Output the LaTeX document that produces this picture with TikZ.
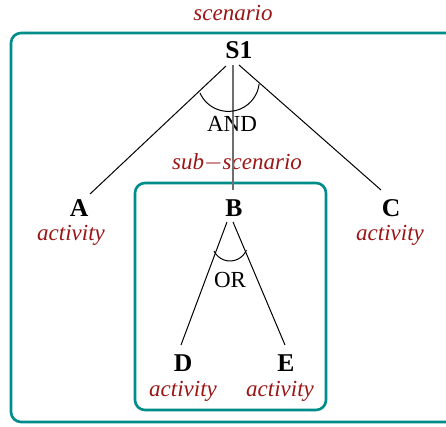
\documentclass[tikz,border=0pt]{standalone}
\usepackage{fontspec}
\setmainfont{Liberation Serif}
\definecolor{frameteal}{RGB}{0,140,138}
\definecolor{lblred}{RGB}{155,22,22}
\definecolor{linegray}{RGB}{110,110,110}
\begin{document}
\begin{tikzpicture}[x=0.5pt,y=-0.5pt,
  every node/.style={inner sep=0pt,font=\fontsize{11.5}{13}\selectfont},
  lbl/.style={text=lblred,font=\fontsize{11.5}{13}\selectfont\itshape},
  bnode/.style={font=\fontsize{12.8}{14}\selectfont\bfseries},
  frame/.style={draw=frameteal,line width=1.3pt,rounded corners=5pt},
  edge/.style={draw=black,line width=0.5pt},
  gedge/.style={draw=linegray,line width=0.8pt}]
\useasboundingbox (0,0) rectangle (446,427);
% frames
\draw[frame] (11,33) rectangle (480,422);
\draw[frame] (135,183) rectangle (326,410);
% labels and nodes
\node[lbl] (scen) at (233,13) {scenario};
\node[bnode] (S1) at (239,50) {S1};
\node (and) at (232,124) {AND};
\node[lbl] (sub) at (237,163) {sub$-$scenario};
\node[bnode] (A) at (79,208) {A};
\node[lbl] (actA) at (71,235) {activity};
\node[bnode] (B) at (234,208) {B};
\node[bnode] (C) at (391,208) {C};
\node[lbl] (actC) at (390,235) {activity};
\node (or) at (230,280) {OR};
\node[bnode] (D) at (183,363) {D};
\node[lbl] (actD) at (183,391) {activity};
\node[bnode] (E) at (286,363) {E};
\node[lbl] (actE) at (280,391) {activity};
% connectors
\draw[edge] ([shift={(-13,16)}]S1.center) -- ([shift={(11,-14)}]A.center);
\draw[edge] ([shift={(0,15)}]S1.center) -- ([shift={(-10,-18)}]C.center);
\draw[gedge] ([shift={(-6,15)}]S1.center) -- ([shift={(-1,-18)}]B.center);
\draw[edge] ([shift={(-7,14)}]B.center) -- ([shift={(-2,-18)}]D.center);
\draw[edge] ([shift={(-1,14)}]B.center) -- ([shift={(-1,-18)}]E.center);
% arcs
\draw[edge] ([shift={(-39,43)}]S1.center) arc[start angle=204,end angle=353,radius=15.5pt];
\draw[edge] ([shift={(-20,43)}]B.center) arc[start angle=206,end angle=337,radius=8.9pt];
\end{tikzpicture}
\end{document}
